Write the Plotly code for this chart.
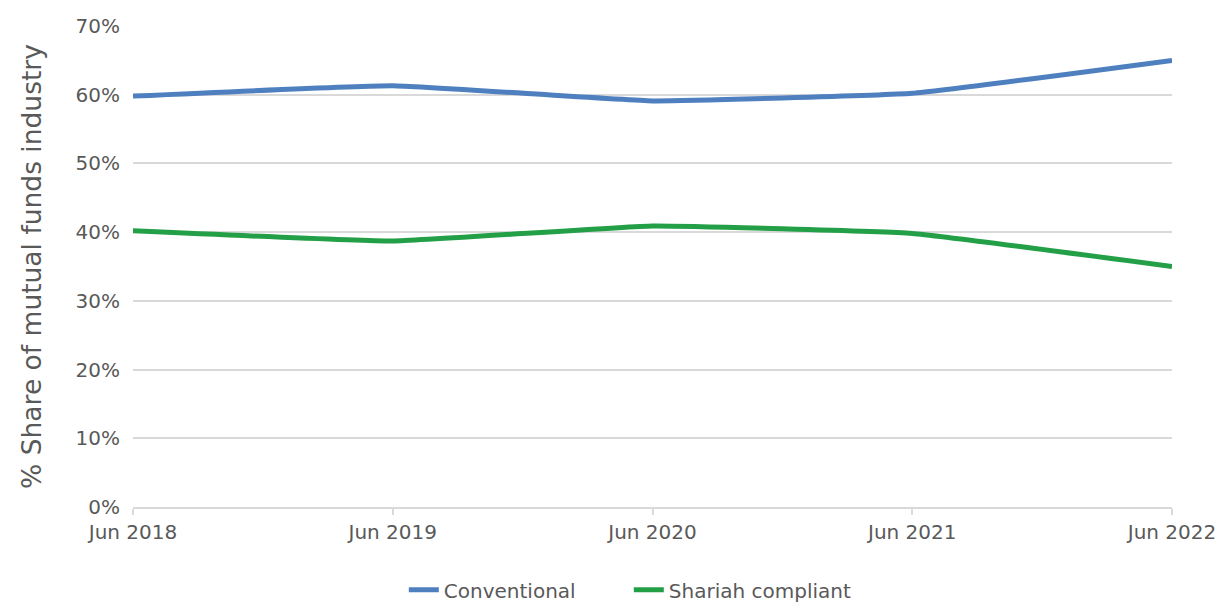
import plotly.graph_objects as go

periods = ["Jun 2018", "Jun 2019", "Jun 2020", "Jun 2021", "Jun 2022"]
conventional = [59.8, 61.3, 59.1, 60.2, 65.0]
shariah = [40.2, 38.7, 40.9, 39.8, 35.0]
y_ticks = [0, 10, 20, 30, 40, 50, 60, 70]
y_labels = [f"{v}%" for v in y_ticks]

fig = go.Figure()
fig.add_trace(go.Scatter(x=periods, y=conventional, mode="lines", name="Conventional",
                         line=dict(color="#4E7FBF", width=5, shape="spline", smoothing=0.3)))
fig.add_trace(go.Scatter(x=periods, y=shariah, mode="lines", name="Shariah compliant",
                         line=dict(color="#23A047", width=5, shape="spline", smoothing=0.3)))

font_family = "DejaVu Sans, sans-serif"
fig.update_layout(
    width=1221, height=603,
    margin=dict(l=133, r=49, t=26, b=96, autoexpand=False),
    paper_bgcolor="white", plot_bgcolor="white",
    font=dict(family=font_family, color="#595959", size=20),
    showlegend=True,
    legend=dict(orientation="h", x=0.515, xanchor="center", xref="container",
                y=0.022, yanchor="middle", yref="container",
                font=dict(size=20, color="#595959"), traceorder="normal",
                bgcolor="rgba(0,0,0,0)", tracegroupgap=0, entrywidth=180),
    xaxis=dict(range=[0, 4], type="category", showgrid=False, showline=True, automargin=False,
               linecolor="#d9d9d9", linewidth=2, ticks="outside", tickcolor="#d9d9d9",
               ticklen=6, tickwidth=2, tickfont=dict(size=20, color="#595959"), zeroline=False),
    yaxis=dict(range=[0, 70], tickvals=y_ticks, ticktext=y_labels, showgrid=True, automargin=False,
               gridcolor="#d9d9d9", gridwidth=2, zeroline=False, showline=False,
               ticks="", ticklabelstandoff=12, tickfont=dict(size=20, color="#595959"),
               title=dict(text="% Share of mutual funds industry", font=dict(size=26.5, color="#595959"),
                          standoff=26)),
)
fig.write_html("out.html")
